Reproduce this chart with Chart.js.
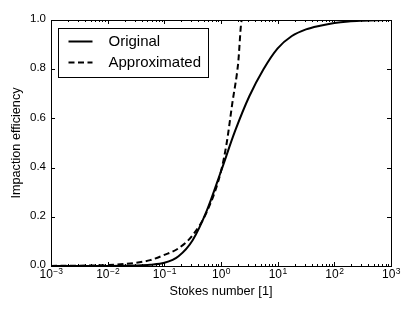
<!DOCTYPE html>
<html>
<head>
<meta charset="utf-8">
<script src="https://cdn.jsdelivr.net/npm/chart.js@4"></script>
<style>
  html, body { margin: 0; padding: 0; background: #fff; }
  canvas { display: block; }
</style>
</head>
<body>
<canvas id="impactionChart" width="415" height="312"></canvas>
<script>
// values
const stokesOriginal = [0.001, 0.00316, 0.01, 0.0178, 0.0316, 0.0562, 0.1, 0.178, 0.316, 0.562, 1.0, 1.78, 3.16, 5.62, 10, 17.8, 31.6, 56.2, 100, 178, 316, 562, 1000];
const effOriginal    = [0.0, 0.0001, 0.0004, 0.001, 0.002, 0.005, 0.013, 0.04, 0.105, 0.225, 0.385, 0.55, 0.69, 0.8, 0.885, 0.935, 0.962, 0.977, 0.988, 0.994, 0.997, 0.999, 1.0];

const stokesApprox = [0.001, 0.00316, 0.01, 0.0316, 0.0562, 0.1, 0.178, 0.316, 0.562, 1.0, 1.26, 1.58, 2.0, 2.34, 10, 100, 1000];
const effApprox    = [0.0004, 0.0013, 0.004, 0.013, 0.024, 0.045, 0.072, 0.125, 0.22, 0.385, 0.5, 0.66, 0.82, 1.0, 1.0, 1.0, 1.0];

const xDecades = [-3, -2, -1, 0, 1, 2, 3];
const yTicks = [0.0, 0.2, 0.4, 0.6, 0.8, 1.0];
const seriesNames = ['Original', 'Approximated'];

const FONT = '"Liberation Sans", Arial, Helvetica, sans-serif';

const toPoints = (xs, ys) => xs.map((x, i) => ({ x: x, y: ys[i] }));

// matplotlib-like frame, inward ticks, labels and legend
const decor = {
  id: 'decor',
  afterDraw(chart) {
    const ctx = chart.ctx;
    const a = chart.chartArea;
    const xs = chart.scales.x;
    const ys = chart.scales.y;
    ctx.save();
    ctx.strokeStyle = '#000';
    ctx.fillStyle = '#000';
    ctx.lineWidth = 1;

    // frame
    ctx.strokeRect(Math.round(a.left) + 0.5, Math.round(a.top) + 0.5,
      Math.round(a.right - a.left), Math.round(a.bottom - a.top));

    const tick = (x1, y1, x2, y2) => {
      ctx.beginPath();
      ctx.moveTo(x1, y1);
      ctx.lineTo(x2, y2);
      ctx.stroke();
    };

    // x ticks (major + minor), bottom and top, pointing in
    xDecades.forEach(d => {
      const px = Math.round(xs.getPixelForValue(Math.pow(10, d))) + 0.5;
      tick(px, a.bottom, px, a.bottom - 4);
      tick(px, a.top, px, a.top + 4);
      if (d < 3) {
        for (let m = 2; m <= 9; m++) {
          const mx = Math.round(xs.getPixelForValue(m * Math.pow(10, d))) + 0.5;
          tick(mx, a.bottom, mx, a.bottom - 2);
          tick(mx, a.top, mx, a.top + 2);
        }
      }
    });

    // y ticks left and right
    yTicks.forEach(v => {
      const py = Math.round(ys.getPixelForValue(v)) + 0.5;
      tick(a.left, py, a.left + 4, py);
      tick(a.right, py, a.right - 4, py);
    });

    // y tick labels
    ctx.font = '11.5px ' + FONT;
    ctx.textAlign = 'right';
    ctx.textBaseline = 'middle';
    yTicks.forEach(v => {
      ctx.fillText(v.toFixed(1), a.left - 5, ys.getPixelForValue(v) - 1);
    });

    // x tick labels: 10 with superscript exponent
    ctx.textBaseline = 'alphabetic';
    ctx.textAlign = 'left';
    xDecades.forEach(d => {
      const px = xs.getPixelForValue(Math.pow(10, d));
      const exp = d < 0 ? '\u2212' + Math.abs(d) : String(d);
      ctx.font = '12px ' + FONT;
      const wBase = ctx.measureText('10').width;
      ctx.font = '8.5px ' + FONT;
      const wExp = ctx.measureText(exp).width;
      const x0 = px - (wBase + wExp) / 2;
      ctx.font = '12px ' + FONT;
      ctx.fillText('10', x0, a.bottom + 12);
      ctx.font = '8.5px ' + FONT;
      ctx.fillText(exp, x0 + wBase + 0.5, a.bottom + 8);
    });

    // axis titles
    ctx.font = '12.7px ' + FONT;
    ctx.textAlign = 'center';
    ctx.textBaseline = 'middle';
    ctx.fillText('Stokes number [1]', (a.left + a.right) / 2, a.bottom + 25);
    ctx.save();
    ctx.translate(16, (a.top + a.bottom) / 2);
    ctx.rotate(-Math.PI / 2);
    ctx.fillText('Impaction efficiency', 0, 0);
    ctx.restore();

    // legend
    const lx = a.left + 7.5, ly = a.top + 8.5;
    ctx.fillStyle = '#fff';
    ctx.fillRect(lx, ly, 150, 49);
    ctx.strokeStyle = '#000';
    ctx.lineWidth = 1;
    ctx.strokeRect(lx, ly, 150, 49);
    ctx.lineWidth = 2;
    ctx.setLineDash([]);
    tick(lx + 10, ly + 13, lx + 34, ly + 13);
    ctx.setLineDash([6, 3.5]);
    tick(lx + 10, ly + 34, lx + 34, ly + 34);
    ctx.setLineDash([]);
    ctx.fillStyle = '#000';
    ctx.font = '15px ' + FONT;
    ctx.textAlign = 'left';
    ctx.fillText(seriesNames[0], lx + 50, ly + 13);
    ctx.fillText(seriesNames[1], lx + 50, ly + 34);
    ctx.restore();
  }
};

const chart = new Chart(document.getElementById('impactionChart'), {
  type: 'scatter',
  data: {
    datasets: [
      {
        label: seriesNames[0],
        data: toPoints(stokesOriginal, effOriginal),
        showLine: true,
        borderColor: '#000',
        borderWidth: 2,
        pointRadius: 0,
        cubicInterpolationMode: 'monotone'
      },
      {
        label: seriesNames[1],
        data: toPoints(stokesApprox, effApprox),
        showLine: true,
        borderColor: '#000',
        borderWidth: 2,
        borderDash: [6, 3.5],
        pointRadius: 0,
        cubicInterpolationMode: 'monotone'
      }
    ]
  },
  options: {
    responsive: false,
    animation: false,
    layout: { padding: { left: 51, right: 24, top: 20, bottom: 46 } },
    plugins: { legend: { display: false }, tooltip: { enabled: false } },
    scales: {
      x: { type: 'logarithmic', min: 0.001, max: 1000, display: false },
      y: { type: 'linear', min: 0, max: 1, display: false }
    }
  },
  plugins: [decor]
});
</script>
</body>
</html>
